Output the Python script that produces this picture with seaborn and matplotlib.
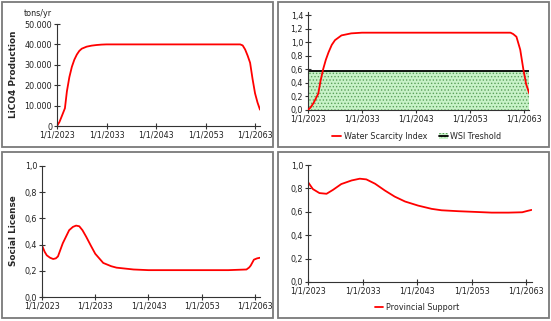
import matplotlib
matplotlib.use("Agg")
import matplotlib.pyplot as plt
import seaborn as sns
import pandas as pd
import numpy as np
from matplotlib.patches import Rectangle, Patch
from matplotlib.lines import Line2D
from matplotlib.ticker import FuncFormatter

# ---------------- data ----------------
prod_years = [2023.0, 2023.5, 2024.0, 2024.6, 2025.0, 2025.5, 2026.0, 2026.5, 2027.0, 2027.5,
              2028.0, 2029.0, 2030.0, 2031.0, 2032.0, 2033.0, 2040.0, 2050.0, 2060.0,
              2060.5, 2061.0, 2061.5, 2062.0, 2062.5, 2063.0, 2063.5, 2064.0]
prod_vals = [0, 2000, 5000, 8700, 17000, 24000, 29000, 32500, 35000, 36800,
             37900, 38900, 39400, 39700, 39900, 40000, 40000, 40000, 40000,
             39500, 37500, 34500, 31000, 23000, 16000, 11500, 8000]

wsi_years = [2023.0, 2023.5, 2024.0, 2024.9, 2025.3, 2025.8, 2026.3, 2026.8, 2027.4, 2028.0,
             2029.2, 2031.0, 2033.0, 2045.0, 2060.5, 2061.0, 2061.6, 2062.3, 2062.9,
             2063.4, 2064.0]
wsi_vals = [0.0, 0.04, 0.10, 0.24, 0.42, 0.60, 0.74, 0.85, 0.96, 1.03,
            1.10, 1.13, 1.14, 1.14, 1.14, 1.12, 1.08, 0.89, 0.59,
            0.38, 0.24]
wsi_threshold = 0.58

sl_years = [2023.0, 2023.5, 2023.9, 2024.5, 2025.1, 2025.6, 2026.0, 2026.9, 2028.1, 2028.8,
            2029.4, 2030.0, 2030.6, 2031.3, 2032.2, 2033.0, 2034.5, 2036.0, 2037.0, 2040.2,
            2043.0, 2050.0, 2058.0, 2061.4, 2061.9, 2062.2, 2062.8, 2063.4, 2064.0]
sl_vals = [0.394, 0.345, 0.318, 0.30, 0.29, 0.295, 0.31, 0.41, 0.51, 0.535,
           0.545, 0.54, 0.51, 0.46, 0.39, 0.33, 0.26, 0.235, 0.224, 0.21,
           0.205, 0.205, 0.205, 0.21, 0.225, 0.24, 0.285, 0.295, 0.30]

ps_years = [2023.0, 2023.9, 2025.1, 2026.4, 2027.6, 2029.1, 2031.0, 2032.5, 2033.7, 2035.3,
            2037.1, 2038.9, 2040.8, 2043.2, 2045.7, 2047.5, 2050.6, 2053.7, 2056.7, 2059.8,
            2062.3, 2063.2, 2064.0]
ps_vals = [0.854, 0.794, 0.76, 0.754, 0.788, 0.837, 0.868, 0.883, 0.877, 0.84,
           0.782, 0.73, 0.688, 0.653, 0.625, 0.613, 0.605, 0.599, 0.593, 0.593,
           0.596, 0.607, 0.616]

tick_years = [2023, 2033, 2043, 2053, 2063]
tick_labels = ["1/1/2023", "1/1/2033", "1/1/2043", "1/1/2053", "1/1/2063"]

# ---------------- style ----------------
sns.set_style("white")
plt.rcParams['font.family'] = ['DejaVu Sans']
plt.rcParams['hatch.linewidth'] = 0.6
FS = 5.8

W, H = 551, 321
fig = plt.figure(figsize=(W / 100, H / 100), dpi=100)

def frame(x0, y0, x1, y1):
    fig.patches.append(Rectangle((x0 / W, 1 - y1 / H), (x1 - x0) / W, (y1 - y0) / H,
                                 transform=fig.transFigure, facecolor='white',
                                 edgecolor='#7a7a7a', lw=1.3, zorder=-5))

frame(2, 2, 273, 147)
frame(278, 2, 549, 147)
frame(2, 152, 273, 318)
frame(278, 152, 549, 318)

def make_ax(left, right, top, bottom):
    ax = fig.add_axes([left / W, 1 - bottom / H, (right - left) / W, (bottom - top) / H])
    ax.set_zorder(2)
    ax.patch.set_alpha(0)
    return ax

def style_ax(ax):
    for s in ['top', 'right']:
        ax.spines[s].set_visible(False)
    for s in ['left', 'bottom']:
        ax.spines[s].set_color('#333333')
        ax.spines[s].set_linewidth(0.8)
    ax.set_xlim(2023, 2064)
    ax.set_xticks(tick_years)
    ax.set_xticklabels(tick_labels)
    ax.tick_params(axis='both', direction='inout', length=5, width=0.8, colors='#333333',
                   labelsize=FS, pad=1, labelcolor='#222222', bottom=True, left=True)
    ax.set_xlabel('')
    ax.set_ylabel('')

comma = FuncFormatter(lambda v, p: f"{v:.1f}".replace('.', ','))
thous = FuncFormatter(lambda v, p: f"{int(round(v)):,}".replace(',', '.'))

RED = '#ff0000'

# Top-left
ax1 = make_ax(57, 260, 24, 126)
sns.lineplot(x=prod_years, y=prod_vals, ax=ax1, color=RED, lw=1.3)
style_ax(ax1)
ax1.set_ylim(0, 50000)
ax1.set_yticks([0, 10000, 20000, 30000, 40000, 50000])
ax1.yaxis.set_major_formatter(thous)
fig.text(13 / W, 1 - 74 / H, 'LiCO4 Production', rotation=90, ha='center', va='center',
         fontsize=6.4, fontweight='bold')
fig.text(24 / W, 1 - 13 / H, 'tons/yr', ha='left', va='center', fontsize=FS, color='#222222')

# Top-right
ax2 = make_ax(308, 529.4, 12, 110)
ax2.fill_between([2023, 2064], 0, wsi_threshold, facecolor='#c8f2c8', edgecolor='#5aa05a',
                 hatch='.....', lw=0, zorder=1)
ax2.axhline(wsi_threshold, color='black', lw=1.3, zorder=2)
sns.lineplot(x=wsi_years, y=wsi_vals, ax=ax2, color=RED, lw=1.3, zorder=3)
style_ax(ax2)
ax2.set_ylim(0, 1.445)
ax2.set_yticks([0, 0.2, 0.4, 0.6, 0.8, 1.0, 1.2, 1.4])
ax2.yaxis.set_major_formatter(comma)
h1 = Line2D([], [], color=RED, lw=1.3)
h2 = (Patch(facecolor='#c8f2c8', edgecolor='#5aa05a', hatch='.....', lw=0),
      Line2D([], [], color='black', lw=1.3, marker=None))
fig.legend([h1, h2], ['Water Scarcity Index', 'WSI Treshold'], loc='center',
           bbox_to_anchor=(417 / W, 1 - 136 / H), ncol=2, frameon=False, fontsize=FS,
           handlelength=1.1, handletextpad=0.35, columnspacing=1.4, borderpad=0)

# Bottom-left
ax3 = make_ax(42, 260.3, 166, 297)
sns.lineplot(x=sl_years, y=sl_vals, ax=ax3, color=RED, lw=1.3)
style_ax(ax3)
ax3.set_ylim(0, 1.0)
ax3.set_yticks([0, 0.2, 0.4, 0.6, 0.8, 1.0])
ax3.yaxis.set_major_formatter(comma)
fig.text(13 / W, 1 - 231 / H, 'Social License', rotation=90, ha='center', va='center',
         fontsize=6.4, fontweight='bold')

# Bottom-right
ax4 = make_ax(308, 531.5, 165, 282)
sns.lineplot(x=ps_years, y=ps_vals, ax=ax4, color=RED, lw=1.3)
style_ax(ax4)
ax4.set_ylim(0, 1.0)
ax4.set_yticks([0, 0.2, 0.4, 0.6, 0.8, 1.0])
ax4.yaxis.set_major_formatter(comma)
fig.legend([Line2D([], [], color=RED, lw=1.3)], ['Provincial Support'], loc='center',
           bbox_to_anchor=(417 / W, 1 - 307 / H), frameon=False, fontsize=FS,
           handlelength=1.1, handletextpad=0.35, borderpad=0)

fig.savefig('out.png', dpi=100)
